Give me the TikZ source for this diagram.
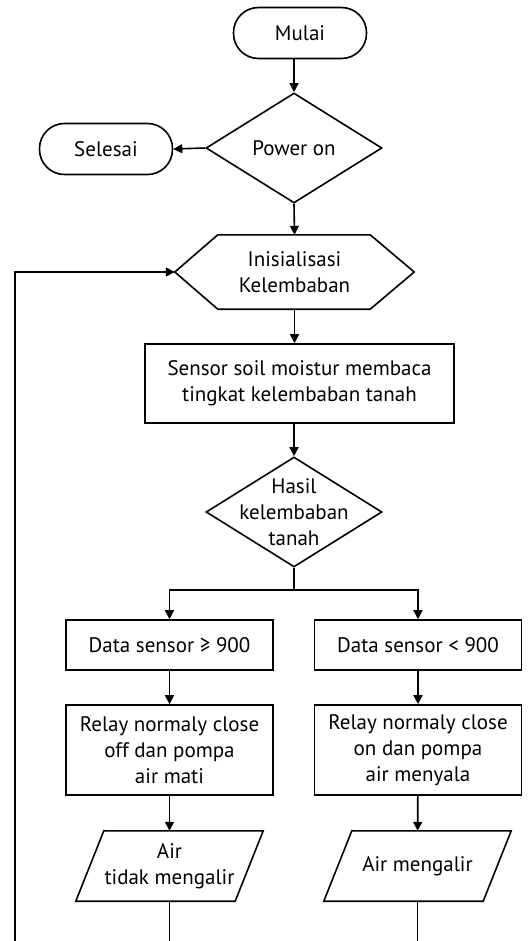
\documentclass[tikz,border=0pt]{standalone}
\usepackage{fontspec}
\setmainfont{PT Sans}
\usetikzlibrary{shapes.geometric,arrows.meta}

\tikzset{
	garis/.style={line width=1.6pt},
	panah/.style={garis, -{Triangle[length=9pt,width=9pt]}},
	terminal/.style={draw, garis, rectangle, rounded corners=25pt, minimum width=133pt, minimum height=51pt},
	proses/.style={draw, garis, rectangle, align=center, minimum width=207pt},
	keputusan/.style={draw, garis, diamond, inner sep=0pt, minimum width=176pt, minimum height=110pt},
	masukan/.style={rectangle, align=center, inner sep=0pt, minimum width=187pt, minimum height=70pt}
}

\begin{document}
\begin{tikzpicture}[x=1pt, y=-1pt, every node/.style={font=\fontsize{21}{26}\selectfont}]
			\useasboundingbox (0,0) rectangle (530,941);
			
			\node[terminal] (mulai) at (300,33) {Mulai};
			\node[keputusan, label={center:Power on}] (power) at (294,148) {};
			\node[terminal] (selesai) at (106,149) {Selesai};
			
			\node[rectangle, minimum width=239pt, minimum height=74pt, align=center] (init) at (294.5,272) {Inisialisasi\\Kelembaban};
			\draw[garis] ([xshift=43pt]init.north west) -- ([xshift=-44pt]init.north east) -- (init.east)
				-- ([xshift=-44pt]init.south east) -- ([xshift=43pt]init.south west) -- (init.west) -- cycle;
			
			\node[proses, minimum width=309pt, minimum height=79pt] (sensor) at (299.5,383.5) {Sensor soil moistur membaca\\tingkat kelembaban tanah};
			\node[keputusan, label={[align=center]center:Hasil\\kelembaban\\tanah}] (hasil) at (294,512) {};
			
			\node[proses, minimum height=50pt] (dataA) at (169.5,645) {Data sensor ≥ 900};
			\node[proses, minimum height=50pt] (dataB) at (418,645) {Data sensor < 900};
			\node[proses, minimum height=90pt] (relayA) at (169.5,750) {Relay normaly close\\off dan pompa\\air mati};
			\node[proses, minimum height=90pt] (relayB) at (418,750) {Relay normaly close\\on dan pompa\\air menyala};
			\node[masukan] (airA) at (169.5,866) {Air\\tidak mengalir};
			\node[masukan] (airB) at (417.5,866) {Air mengalir};
			\draw[garis] ([xshift=28pt]airA.north west) -- (airA.north east) -- ([xshift=-28pt]airA.south east) -- (airA.south west) -- cycle;
			\draw[garis] ([xshift=28pt]airB.north west) -- (airB.north east) -- ([xshift=-28pt]airB.south east) -- (airB.south west) -- cycle;
			
			\coordinate (bawah) at (15,941);
			
			\draw[panah] (power.north |- mulai.south) -- (power.north);
			\draw[panah] (power.west) -- (selesai.east);
			\draw[panah] (power.south) -- (init.north);
			\draw[panah] (init.south) -- (init.south |- sensor.north);
			\draw[panah] (hasil.north |- sensor.south) -- (hasil.north);
			\draw[panah] (hasil.south) -- ++(0,22) -| (dataA.north);
			\draw[panah] (hasil.south) -- ++(0,22) -| (dataB.north);
			\draw[panah] (dataA) -- (relayA);
			\draw[panah] (dataB) -- (relayB);
			\draw[panah] (relayA) -- (airA);
			\draw[panah] (relayB) -- (airB);
			\draw[garis] (airA.south) -- (airA.south |- bawah);
			\draw[garis] (airB.south) -- (airB.south |- bawah);
			\draw[panah] (bawah) |- (init.west);
		\end{tikzpicture}
\end{document}
